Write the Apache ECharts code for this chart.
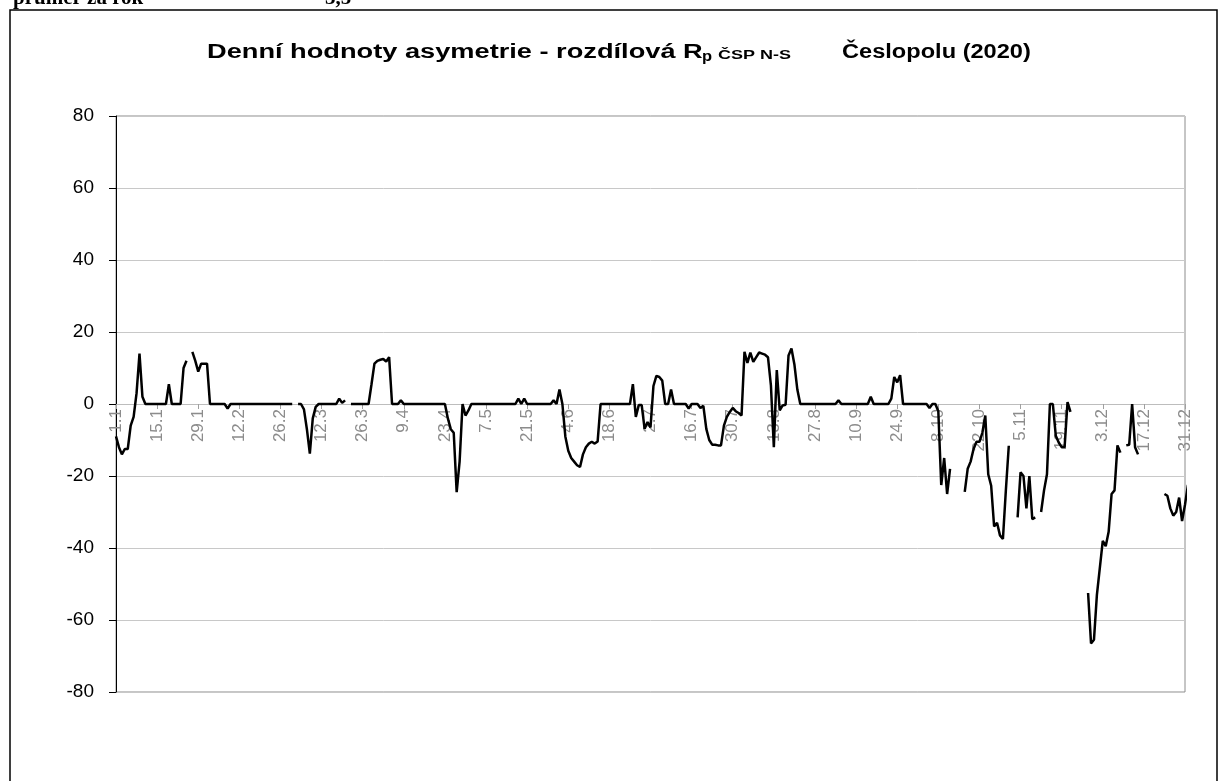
<!DOCTYPE html>
<html>
<head>
<meta charset="utf-8">
<script src="https://cdn.jsdelivr.net/npm/echarts@6/dist/echarts.min.js"></script>
<style>
    html, body { margin: 0; padding: 0; background: #fff; }
    #chart { width: 1228px; height: 781px; }
</style>
</head>
<body>
<div id="chart"></div>
<script>
// days in months, data is labelled as a 365-day year (no 29.2)
var monthDays = [31, 28, 31, 30, 31, 30, 31, 31, 30, 31, 30, 31];
var yTicks = [-80, -60, -40, -20, 0, 20, 40, 60, 80];

// daily values, two weeks per row (null = no data)
var week01 = [-9, -12, -14, -12.5, -12.5, -6, -3.6, 3, 14, 2, 0, 0, 0, 0];
var week03 = [0, 0, 0, 0, 5.5, 0, 0, 0, 0, 10, 12, null, 14.5, 12];
var week05 = [9, 11.2, 11.2, 11.2, 0, 0, 0, 0, 0, 0, -1.3, 0, 0, 0];
var week07 = [0, 0, 0, 0, 0, 0, 0, 0, 0, 0, 0, 0, 0, 0];
var week09 = [0, 0, 0, 0, 0, null, 0, 0, -1.5, -7, -13.8, -4, -0.8, 0];
var week11 = [0, 0, 0, 0, 0, 0, 1.5, 0.3, 1, null, 0, 0, 0, 0];
var week13 = [0, 0, 0, 5.5, 11.2, 12, 12.3, 12.5, 11.8, 13, 0, 0, 0, 1];
var week15 = [0, 0, 0, 0, 0, 0, 0, 0, 0, 0, 0, 0, 0, 0];
var week17 = [0, -4, -7, -8, -24.5, -16, 0, -3.2, -1.8, 0, 0, 0, 0, 0];
var week19 = [0, 0, 0, 0, 0, 0, 0, 0, 0, 0, 0, 1.5, 0, 1.5];
var week21 = [0, 0, 0, 0, 0, 0, 0, 0, 0, 1, 0, 4, 0, -9];
var week23 = [-13, -15, -16, -17, -17.5, -14, -12, -11, -10.5, -11, -10.4, 0, 0, 0];
var week25 = [0, 0, 0, 0, 0, 0, 0, 0, 5.5, -3.6, -0.3, -0.3, -6.9, -5];
var week27 = [-6.5, 5, 7.8, 7.5, 6.5, 0, 0, 4, 0, 0, 0, 0, 0, -1.3];
var week29 = [0, 0, 0, -1.1, -0.5, -6.9, -10, -11.3, -11.3, -11.5, -11.5, -6, -3.6, -2.2];
var week31 = [-1.1, -2, -2.5, -3.2, 14.5, 11.4, 14.3, 11.7, 13, 14.3, 14, 13.7, 13, 5.2];
var week33 = [-12, 9.4, -1.8, -0.4, -0.2, 13.5, 15.4, 11, 4, 0, 0, 0, 0, 0];
var week35 = [0, 0, 0, 0, 0, 0, 0, 0, 1, 0, 0, 0, 0, 0];
var week37 = [0, 0, 0, 0, 0, 2, 0, 0, 0, 0, 0, 0, 1.5, 7.5];
var week39 = [6, 8, 0, 0, 0, 0, 0, 0, 0, 0, 0, -1.1, 0, 0];
var week41 = [-2, -22.5, -15, -25, -18, null, null, null, null, -24.4, -18, -16, -12.5, -10.5];
var week43 = [-10.5, -8, -3.2, -19.5, -22.7, -34, -33, -36.5, -37.5, -24, -11.6, null, null, -31.5];
var week45 = [-19, -20, -29, -20, -32, -31.5, null, -30, -24, -19.5, 0, 0, -8.8, -10.7];
var week47 = [-12, -12, 0.5, -2.2, null, null, null, null, null, -52.5, -66.5, -65.5, -53, -45.5];
var week49 = [-38, -39.5, -35.5, -25, -24, -11.5, -13.5, null, -11.5, -11.3, 0, -12, -14, null];
var week51 = [null, null, null, null, null, null, null, -25, -25.5, -29, -31, -30, -26, -32.5];
var week53 = [-28, -22.5];

var values = [].concat(week01, week03, week05, week07, week09, week11, week13, week15,
    week17, week19, week21, week23, week25, week27, week29, week31, week33, week35,
    week37, week39, week41, week43, week45, week47, week49, week51, week53);

var days = [];
for (var m = 0; m < 12; m++) {
    for (var d = 1; d <= monthDays[m]; d++) {
        days.push(d + '.' + (m + 1));
    }
}

var gridTop = 116, gridBottom = 89, chartH = 781;
// pixel row of the value 0, the date axis sits there
var zeroOffset = (chartH - gridBottom - gridTop) / 2;

var titleFont = 'bold 20px "Liberation Sans"';

var chart = echarts.init(document.getElementById('chart'));
var option = {
    animation: false,
    backgroundColor: '#fff',
    graphic: [
        { type: 'rect', shape: { x: 10, y: 10, width: 1207, height: 790 }, style: { fill: 'none', stroke: '#000', lineWidth: 1.5 }, silent: true },
        { type: 'text', x: 13, y: -1, style: { text: 'průměr za rok', font: 'bold 21px "Liberation Serif"', fill: '#000', verticalAlign: 'middle' } },
        { type: 'text', x: 325, y: -1, style: { text: '3,5', font: 'bold 21px "Liberation Serif"', fill: '#000', verticalAlign: 'middle' } },
        // title, the original is stretched sideways
        { type: 'text', x: 207, y: 52, scaleX: 1.36, style: { text: 'Denní hodnoty asymetrie - rozdílová R', font: titleFont, fill: '#000', verticalAlign: 'middle' } },
        { type: 'text', x: 702, y: 57, scaleX: 1.1, style: { text: 'p', font: 'bold 15px "Liberation Sans"', fill: '#000', verticalAlign: 'middle' } },
        { type: 'text', x: 718, y: 56, scaleX: 1.5, style: { text: 'ČSP N-S', font: 'bold 12px "Liberation Sans"', fill: '#000', verticalAlign: 'middle' } },
        { type: 'text', x: 842, y: 52, scaleX: 1.18, style: { text: 'Česlopolu (2020)', font: titleFont, fill: '#000', verticalAlign: 'middle' } }
    ],
    grid: {
        left: 116,
        right: 43,
        top: gridTop,
        bottom: gridBottom,
        show: true,
        borderColor: '#8c8c8c',
        borderWidth: 1
    },
    xAxis: {
        type: 'category',
        data: days,
        boundaryGap: false,
        offset: -zeroOffset,
        axisLine: { onZero: false, lineStyle: { color: '#bdbdbd', width: 1 } },
        axisTick: { interval: 13, length: 5, lineStyle: { color: '#a0a0a0' } },
        axisLabel: {
            interval: 13,
            rotate: 90,
            margin: 5,
            color: '#8c8c8c',
            fontSize: 17,
            fontFamily: 'Liberation Sans'
        },
        splitLine: { show: false }
    },
    yAxis: {
        type: 'value',
        min: yTicks[0],
        max: yTicks[yTicks.length - 1],
        interval: 20,
        axisLine: { show: true, lineStyle: { color: '#000', width: 1 } },
        axisTick: { show: true, length: 7, lineStyle: { color: '#000' } },
        axisLabel: { color: '#000', fontSize: 19, fontFamily: 'Liberation Sans', margin: 22 },
        splitLine: { lineStyle: { color: '#c8c8c8', width: 1 } }
    },
    series: [
        {
            type: 'line',
            data: values,
            showSymbol: false,
            connectNulls: false,
            lineStyle: { color: '#000', width: 2.5 },
            z: 5
        }
    ]
};
chart.setOption(option);
</script>
</body>
</html>
